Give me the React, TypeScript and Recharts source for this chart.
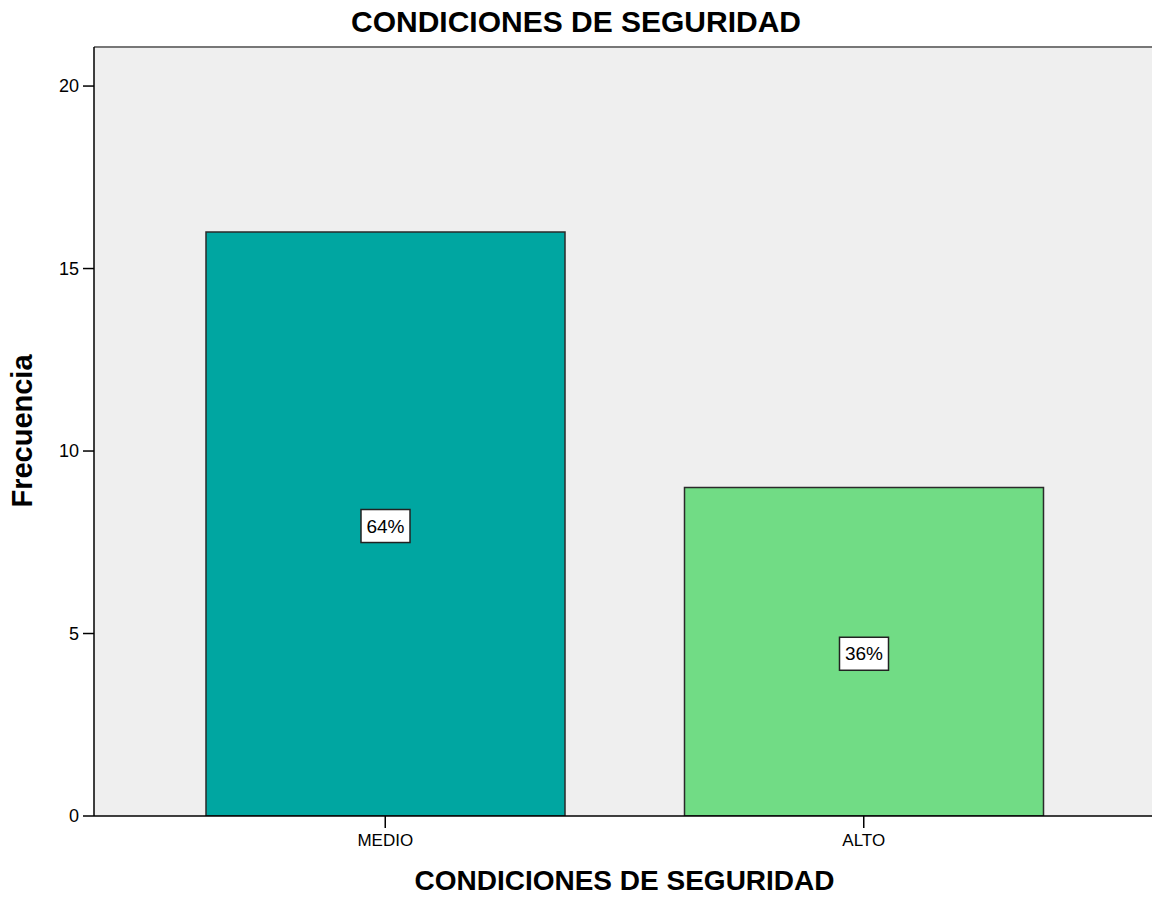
import React from 'react';
import { BarChart, Bar, XAxis, YAxis, CartesianGrid, Cell, LabelList, ReferenceLine } from 'recharts';

const categories = ['MEDIO', 'ALTO'];
const frequencies = [16, 9];
const percentLabels = ['64%', '36%'];
const barColors = ['#00A6A1', '#71DC85'];
const yTicks = [0, 5, 10, 15, 20];

const FONT = '"Liberation Sans", Arial, Helvetica, sans-serif';

const data = categories.map((name, i) => ({
  name,
  frecuencia: frequencies[i],
  pct: percentLabels[i],
}));

// white box with the percentage, centred in the bar
const PctBox = (props: any) => {
  const { x, y, width, height, value } = props;
  const cx = Number(x) + Number(width) / 2;
  const cy = Number(y) + Number(height) / 2;
  const w = 49;
  const h = 33;
  return (
    <g>
      <rect x={cx - w / 2} y={cy - h / 2 + 2} width={w} height={h} fill="#fff" stroke="#222" strokeWidth={1.5} />
      <text x={cx} y={cy + 2} textAnchor="middle" dominantBaseline="central" fontSize={19} fontFamily={FONT} fill="#000">
        {value}
      </text>
    </g>
  );
};

const App: React.FC = () => {
  return (
    <div style={{ position: 'fixed', left: 0, top: 0, width: 1152, height: 901, overflow: 'hidden', background: '#fff', fontFamily: FONT }}>
      <div style={{ position: 'absolute', top: 5, left: 0, width: 1152, textAlign: 'center', fontSize: 30, fontWeight: 'bold', color: '#000' }}>
        CONDICIONES DE SEGURIDAD
      </div>
      <div style={{ position: 'absolute', top: 865, left: 94, width: 1061, textAlign: 'center', fontSize: 28, fontWeight: 'bold', color: '#000' }}>
        CONDICIONES DE SEGURIDAD
      </div>
      <div
        style={{
          position: 'absolute',
          left: 22,
          top: 431,
          transform: 'translate(-50%, -50%) rotate(-90deg)',
          fontSize: 29,
          fontWeight: 'bold',
          color: '#000',
          whiteSpace: 'nowrap',
        }}
      >
        Frecuencia
      </div>
      <div style={{ position: 'absolute', left: 0, top: 0 }}>
        <BarChart width={1158} height={901} data={data} margin={{ top: 47, right: 3, left: 0, bottom: 0 }}>
          <CartesianGrid horizontal={false} vertical={false} fill="#EFEFEF" />
          <XAxis
            dataKey="name"
            padding={{ left: 52, right: 52 }}
            height={85}
            tickSize={12}
            tickMargin={6}
            axisLine={{ stroke: '#000', strokeWidth: 1.5 }}
            tickLine={{ stroke: '#000', strokeWidth: 1.5 }}
            tick={{ fill: '#000', fontSize: 17, fontFamily: FONT }}
          />
          <YAxis
            width={94}
            domain={[0, 21.07]}
            ticks={yTicks}
            allowDataOverflow
            tickSize={11}
            tickMargin={4}
            axisLine={{ stroke: '#000', strokeWidth: 1.5 }}
            tickLine={{ stroke: '#000', strokeWidth: 1.5 }}
            tick={{ fill: '#000', fontSize: 18, fontFamily: FONT }}
          />
          <ReferenceLine y={21.07} stroke="#777" strokeWidth={2} />
          <Bar dataKey="frecuencia" barSize={359} stroke="#2a2a2a" strokeWidth={1.5} isAnimationActive={false}>
            {data.map((d, i) => (
              <Cell key={d.name} fill={barColors[i]} />
            ))}
            <LabelList dataKey="pct" content={PctBox} />
          </Bar>
        </BarChart>
      </div>
    </div>
  );
};

export default App;
